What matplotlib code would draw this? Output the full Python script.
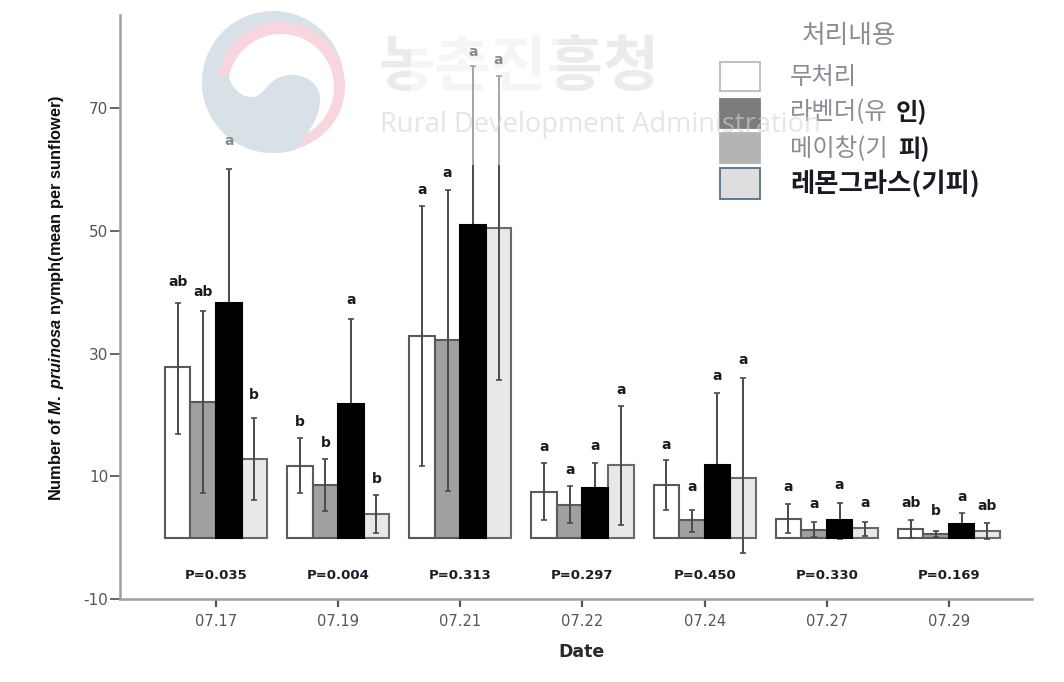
import matplotlib
matplotlib.use("Agg")
import matplotlib.pyplot as plt
from matplotlib import font_manager as fm
import numpy as np
from matplotlib.patches import Circle, PathPatch, Rectangle
from matplotlib.path import Path

installed = {f.name for f in fm.fontManager.ttflist}
LABEL_FONT = 'Liberation Sans Narrow' if 'Liberation Sans Narrow' in installed else 'Liberation Sans'
LABEL_SIZE = 14.0 if LABEL_FONT.endswith('Narrow') else 11.8

plt.rcParams['font.family'] = ['DejaVu Sans']
plt.rcParams['axes.unicode_minus'] = False
plt.rcParams['mathtext.fontset'] = 'custom'
plt.rcParams['mathtext.rm'] = f'{LABEL_FONT}:bold'
plt.rcParams['mathtext.it'] = f'{LABEL_FONT}:italic:bold'
plt.rcParams['mathtext.bf'] = f'{LABEL_FONT}:bold'

dates = ['07.17', '07.19', '07.21', '07.22', '07.24', '07.27', '07.29']
p_labels = ['P=0.035', 'P=0.004', 'P=0.313', 'P=0.297', 'P=0.450', 'P=0.330', 'P=0.169']
treatments = ['무처리', '라벤더(유인)', '메이창(기피)', '레몬그라스(기피)']

control = [27.8, 11.7, 32.8, 7.4, 8.6, 3.0, 1.4]
lavender = [22.1, 8.6, 32.2, 5.4, 2.8, 1.3, 0.6]
maychang = [38.3, 21.8, 51.0, 8.1, 11.8, 2.8, 2.3]
lemongrass = [12.8, 3.9, 50.5, 11.8, 9.7, 1.5, 1.1]

control_hi = [38.3, 16.2, 54.0, 12.1, 12.6, 5.5, 2.9]
lavender_hi = [37.0, 12.8, 56.7, 8.5, 4.5, 2.5, 1.1]
maychang_hi = [60.1, 35.7, 76.9, 12.1, 23.6, 5.7, 4.0]
lemongrass_hi = [19.5, 7.0, 75.3, 21.4, 26.0, 2.6, 2.4]

control_lo = [16.9, 7.3, 11.6, 2.8, 4.5, 0.7, 0.0]
lavender_lo = [7.2, 4.4, 7.6, 2.4, 0.9, 0.1, 0.1]
maychang_lo = [16.5, 8.0, 25.0, 4.0, 0.0, -0.2, 0.6]
lemongrass_lo = [6.1, 0.8, 25.7, 2.0, -2.5, 0.3, -0.2]

control_let = ['ab', 'b', 'a', 'a', 'a', 'a', 'ab']
lavender_let = ['ab', 'b', 'a', 'a', 'a', 'a', 'b']
maychang_let = ['a', 'a', 'a', 'a', 'a', 'a', 'a']
lemongrass_let = ['b', 'b', 'a', 'a', 'a', 'a', 'ab']

control_lety = [41.7, 18.9, 56.7, 14.7, 15.1, 8.2, 5.6]
lavender_lety = [40.1, 15.5, 59.5, 11.1, 8.2, 5.5, 4.3]
maychang_lety = [64.7, 38.7, 79.1, 15.0, 26.3, 8.6, 6.6]
lemongrass_lety = [23.3, 9.6, 77.9, 24.1, 28.9, 5.7, 5.2]

W, H = 1064, 682
fig = plt.figure(figsize=(W / 100, H / 100), dpi=100, facecolor='white')


def px_axes(z):
    a = fig.add_axes([0, 0, 1, 1], zorder=z)
    a.set_xlim(0, W)
    a.set_ylim(H, 0)
    a.axis('off')
    a.patch.set_alpha(0)
    return a


# --- background watermark ---
bg = px_axes(0)
BLUE, PINK = '#d8e0e8', '#f9d6dd'
outer = Circle((273, 82), 71, fc=BLUE, ec='none')
bg.add_patch(outer)
bg.add_patch(Circle((281, 86), 64, fc=PINK, ec='none'))
bg.add_patch(Circle((281, 87), 53, fc='white', ec='none'))
verts = [(195, 75), (228, 75),
         (232, 90), (243, 98), (253, 97),
         (266, 96), (268, 75), (291, 75),
         (310, 75), (321, 87), (320, 101),
         (319, 122), (305, 135), (292, 155),
         (195, 155), (195, 75)]
codes = [Path.MOVETO, Path.LINETO,
         Path.CURVE4, Path.CURVE4, Path.CURVE4,
         Path.CURVE4, Path.CURVE4, Path.CURVE4,
         Path.CURVE4, Path.CURVE4, Path.CURVE4,
         Path.CURVE4, Path.CURVE4, Path.CURVE4,
         Path.LINETO, Path.CLOSEPOLY]
swirl = PathPatch(Path(verts, codes), fc=BLUE, ec='none')
bg.add_patch(swirl)
swirl.set_clip_path(outer)
bg.text(519, 68, '농촌진흥청', family=['Noto Sans CJK KR'], fontsize=44, fontweight='bold',
        color='#ebebeb', ha='center', va='center')

# --- main chart ---
ax = fig.add_axes([120 / W, 1 - 599 / H, (1032 - 120) / W, (599 - 15) / H], zorder=1)
ax.patch.set_alpha(0)
x = np.arange(len(dates))
bw = 0.209
series = [
    (control, control_hi, control_lo, control_let, control_lety, 'white', '#5a5a5a'),
    (lavender, lavender_hi, lavender_lo, lavender_let, lavender_lety, '#a0a0a0', '#5a5a5a'),
    (maychang, maychang_hi, maychang_lo, maychang_let, maychang_lety, 'black', 'black'),
    (lemongrass, lemongrass_hi, lemongrass_lo, lemongrass_let, lemongrass_lety, '#e8e8e8', '#6a6a6a'),
]
for k, (vals, hi, lo, lets, lety, col, edge) in enumerate(series):
    pos = x + (k - 1.5) * bw
    ax.bar(pos, vals, bw, color=col, edgecolor=edge, linewidth=1.5, zorder=2 + (0.5 if col == 'black' else 0))
    v, h, l = np.array(vals), np.array(hi), np.array(lo)
    ax.errorbar(pos, v, yerr=[v - l, h - v], fmt='none', ecolor='#4a4a4a',
                elinewidth=1.4, capsize=2.2, capthick=1.2,
                zorder=2.2 if col == 'black' else 3)
    for xp, s, yp in zip(pos, lets, lety):
        faded = yp > 60
        ax.text(xp, yp, s, ha='center', va='center', fontsize=10, fontweight='bold',
                color='#8a8a8a' if faded else '#1c1c1c', zorder=6)

for xp, s in zip(x, p_labels):
    ax.text(xp, -6.1, s, ha='center', va='center', fontsize=9.5, fontweight='bold',
            color='#1c1c2a', zorder=6)

# the top of the picture is veiled by the watermark
ax.add_patch(Rectangle((1.6, 60.8), 1.2, 24.4, fc='white', alpha=0.5, ec='none', zorder=5))

ax.set_xlim(-0.786, 6.68)
ax.set_ylim(-10, 85.2)
ax.set_xticks(x)
ax.set_xticklabels(dates)
ax.set_yticks([-10, 10, 30, 50, 70])
for s in ('top', 'right'):
    ax.spines[s].set_visible(False)
for s in ('left', 'bottom'):
    ax.spines[s].set_color('#a0a0a0')
    ax.spines[s].set_linewidth(1.8)
ax.tick_params(axis='x', length=6, width=1.6, color='#555555', labelcolor='#555555',
               labelsize=10.5, pad=5)
ax.tick_params(axis='y', length=7, width=1.4, color='#666666', labelcolor='#555555',
               labelsize=11, pad=1.5)

# --- foreground: axis titles, legend, English watermark ---
fg = px_axes(2)
fg.text(582, 652, 'Date', ha='center', va='center', fontsize=12.5, fontweight='bold',
        color='#2a2a2a')
fg.text(57, 298, r'Number of $\mathit{M.~pruinosa}$ nymph(mean per sunflower)',
        rotation=90, ha='center', va='center', fontsize=LABEL_SIZE, fontweight='bold',
        family=[LABEL_FONT], color='#101010')

KR = ['Noto Sans CJK KR']
GRAY, DARK = '#8c8c94', '#1a1a22'
FS = 17.5
fg.text(849, 36, '처리내용', family=KR, fontsize=FS + 1, color=GRAY, ha='center', va='center')
boxes = [(62, 91, 'white', '#b5bcc8'), (99, 128, '#7c7c7c', '#7c7c7c'),
         (133, 163, '#b4b4b4', '#b4b4b4'), (168, 199, '#dedede', '#54708c')]
for top, bot, fc, ec in boxes:
    fg.add_patch(Rectangle((720, top), 40, bot - top, fc=fc, ec=ec, lw=1.3))

fg.text(790, 77, treatments[0], family=KR, fontsize=FS, color=GRAY, va='center')
fg.text(790, 112, treatments[1][:5], family=KR, fontsize=FS, color=GRAY, va='center')
fg.text(896, 112, treatments[1][5:], family=KR, fontsize=FS, color=DARK, va='center', fontweight='bold')
fg.text(790, 149, treatments[2][:5], family=KR, fontsize=FS, color=GRAY, va='center')
fg.text(898, 149, treatments[2][5:], family=KR, fontsize=FS, color=DARK, va='center', fontweight='bold')
fg.text(790, 184, treatments[3], family=KR, fontsize=FS + 1.5, color=DARK, va='center', fontweight='bold')

fg.text(600, 125, 'Rural Development Administration', family=['Open Sans'], fontsize=19.6,
        color='#d4d4d4', alpha=0.6, ha='center', va='center')

fig.savefig('out.png', dpi=100)
